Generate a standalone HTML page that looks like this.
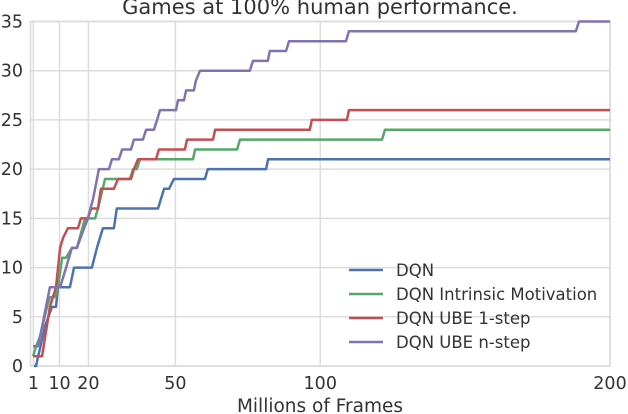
<!DOCTYPE html>
<html><head><meta charset="utf-8"><style>
html,body{margin:0;padding:0;background:#fff;}
svg{display:block;font-family:"DejaVu Sans","Liberation Sans",sans-serif;}
</style></head><body>
<svg id="chart" width="628" height="414" viewBox="0 0 628 414" xmlns="http://www.w3.org/2000/svg">
<g id="grid"></g>
<rect x="30.5" y="21.5" width="579.5" height="344.5" fill="none" stroke="#d9d9d9" stroke-width="1.5"/>
<g id="series"></g>
<g id="ticks"></g>
<text x="320" y="14" text-anchor="middle" font-size="21" fill="#333">Games at 100% human performance.</text>
<text x="320" y="412" text-anchor="middle" font-size="18.5" fill="#333">Millions of Frames</text>
<g id="legend"></g>
</svg>
<script>
const xTicks=[1,10,20,50,100,200];
const yTicks=[0,5,10,15,20,25,30,35];
const seriesNames=["DQN","DQN Intrinsic Motivation","DQN UBE 1-step","DQN UBE n-step"];
const dqnX=[1.2,1.9,5.0,7.4,8.8,9.5,13.6,15.0,21.2,22.9,25.0,28.8,29.8,44.0,46.1,47.8,49.5,60.2,61.2,81.3,82.0,200];
const dqnY=[0,0,4,6,6,8,8,10,10,12,14,14,16,16,18,18,19,19,20,20,21,21];
const imX=[0.9,1.9,3.3,5.7,6.7,8.5,9.5,10.9,12.3,14.3,16.0,18.8,22.3,23.3,25.7,34.3,35.4,36.7,37.8,56.1,56.8,71.3,72.3,121.3,122.3,200];
const imY=[1,2,3,6,7,7,8,11,11,12,12,15,15,16,19,19,20,20,21,21,22,22,23,23,24,24];
const ube1X=[0.9,4.0,6.7,8.8,10.2,11.2,12.9,16.4,17.4,19.8,20.9,23.3,24.3,28.8,30.2,34.7,35.7,37.1,43.3,44.3,53.3,54.0,63.0,63.7,96.4,97.1,109.2,109.9,200];
const ube1Y=[1,1,6,8,12,13,14,14,15,15,16,16,18,18,19,19,20,21,21,22,22,23,23,24,24,25,25,26,26];
const ubenX=[0.9,2.6,4.0,6.7,10.2,12.3,14.3,16.0,18.5,19.8,21.6,23.6,27.1,28.1,30.5,31.6,34.7,35.7,38.8,39.9,42.6,43.7,44.7,50.2,50.9,52.97,53.7,56.4,57.1,58.5,75.7,76.8,81.9,82.6,88.2,89.2,108.9,109.9,188.2,189.3,200];
const ubenY=[2,2,4,8,8,10,12,12,14,15,17,20,20,21,21,22,22,23,23,24,24,25,26,26,27,27,28,28,29,30,30,31,31,32,32,33,33,34,34,35,35];
const colors=["#4C72B0","#55A868","#C44E52","#8172B2"];
const NS="http://www.w3.org/2000/svg";
const X=v=>30.5+v*2.8975;
const Y=v=>366-v*9.843;
function mk(tag,attrs,parent){const e=document.createElementNS(NS,tag);for(const k in attrs)e.setAttribute(k,attrs[k]);parent.appendChild(e);return e;}
const grid=document.getElementById('grid'),ticks=document.getElementById('ticks');
xTicks.forEach(t=>{
  const l=mk('line',{x1:X(t),x2:X(t),y1:21,y2:366,stroke:'#dcdcdc','stroke-width':1.5},grid);
  
  
  const tx=mk('text',{x:X(t),y:389,'text-anchor':'middle','font-size':17.5,fill:'#333'},ticks);
  tx.textContent=t;
  
  
});
yTicks.forEach(t=>{
  const l=mk('line',{x1:30,x2:610,y1:Y(t),y2:Y(t),stroke:'#dcdcdc','stroke-width':1.5},grid);
  
  
  const tx=mk('text',{x:23,y:Y(t)+6,'text-anchor':'end','font-size':17.5,fill:'#333'},ticks);
  tx.textContent=t;
  
  
});
const series=[[dqnX,dqnY],[imX,imY],[ube1X,ube1Y],[ubenX,ubenY]];
const sg=document.getElementById('series');
const slugs=['dqn-line','intrinsic-motivation-line','ube-1-step-line','ube-n-step-line'];
series.forEach((s,i)=>{
  const pts=s[0].map((x,j)=>X(x).toFixed(1)+','+Y(s[1][j]).toFixed(1)).join(' ');
  const p=mk('polyline',{points:pts,fill:'none',stroke:colors[i],'stroke-width':2.5,'stroke-linejoin':'round'},sg);
  
  
});
const lg=document.getElementById('legend');
seriesNames.forEach((n,i)=>{
  const y=270+i*24;
  const l=mk('line',{x1:349,x2:383,y1:y,y2:y,stroke:colors[i],'stroke-width':2.5},lg);
  
  
  const t=mk('text',{x:396,y:y+6,'font-size':16.5,fill:'#333'},lg);
  t.textContent=n;
  
  
});
</script>
</body></html>
